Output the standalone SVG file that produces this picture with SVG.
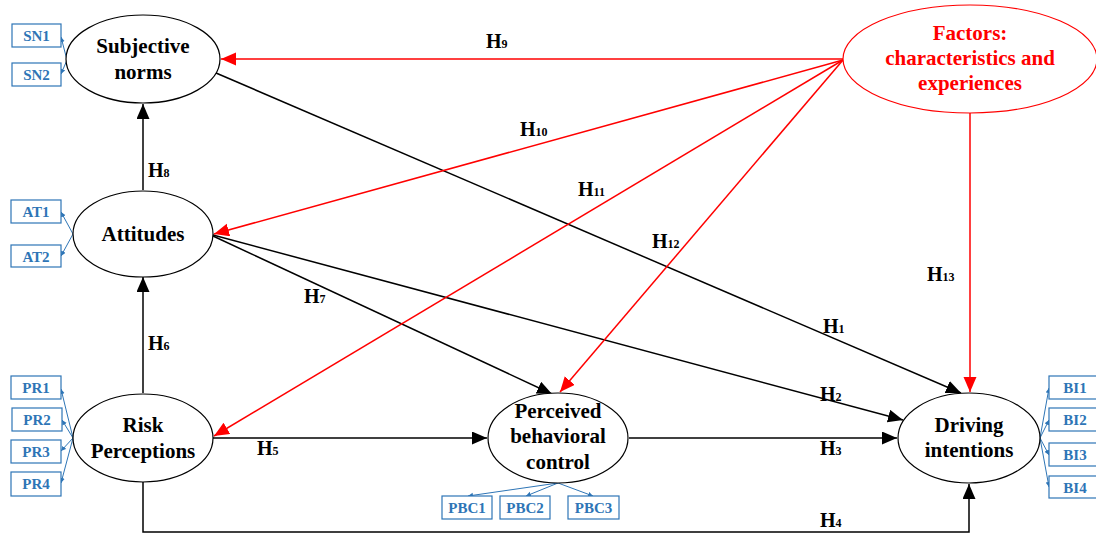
<svg xmlns="http://www.w3.org/2000/svg" width="1096" height="533" viewBox="0 0 1096 533">
<style>
.node{fill:#fff;stroke:#000;stroke-width:1.2}
.fnode{fill:#fff;stroke:#f00;stroke-width:1.2}
.nt{font-family:"Liberation Serif",serif;font-weight:bold;font-size:21px;fill:#000;text-anchor:middle}
.ft{font-family:"Liberation Serif",serif;font-weight:bold;font-size:21px;fill:#f00;text-anchor:middle}
.box{fill:#fff;stroke:#2E75B6;stroke-width:1.2}
.bt{font-family:"Liberation Serif",serif;font-weight:bold;font-size:15px;fill:#2E75B6;text-anchor:middle}
.blk{fill:none;stroke:#000;stroke-width:1.5}
.red{fill:none;stroke:#f00;stroke-width:1.5}
.blu{fill:none;stroke:#2E75B6;stroke-width:1}
.hl{font-family:"Liberation Serif",serif;font-weight:bold;font-size:20px;fill:#000}
.sub{font-size:12px}
</style>
<defs>
<marker id="ab" markerUnits="userSpaceOnUse" markerWidth="16" markerHeight="14" refX="15" refY="6.5" orient="auto"><path d="M0,0 L15,6.5 L0,13 z" fill="#000"/></marker>
<marker id="ar" markerUnits="userSpaceOnUse" markerWidth="16" markerHeight="14" refX="15" refY="6.5" orient="auto"><path d="M0,0 L15,6.5 L0,13 z" fill="#f00"/></marker>
<marker id="au" markerUnits="userSpaceOnUse" markerWidth="6" markerHeight="6" refX="5" refY="2.5" orient="auto"><path d="M0,0 L5,2.5 L0,5 z" fill="#2E75B6"/></marker>
</defs>

<g id="connectors">
<line class="blk" x1="143" y1="190" x2="143" y2="104" marker-end="url(#ab)"/>
<line class="blk" x1="143" y1="393" x2="143" y2="277" marker-end="url(#ab)"/>
<line class="blk" x1="213" y1="438" x2="487" y2="438" marker-end="url(#ab)"/>
<line class="blk" x1="629" y1="438" x2="897" y2="438" marker-end="url(#ab)"/>
<polyline class="blk" points="143,482 143,532 969,532 969,484" marker-end="url(#ab)"/>
<line class="blk" x1="216" y1="73" x2="961" y2="393" marker-end="url(#ab)"/>
<line class="blk" x1="213" y1="235" x2="903" y2="420" marker-end="url(#ab)"/>
<line class="blk" x1="213" y1="236" x2="552" y2="394" marker-end="url(#ab)"/>
<line class="red" x1="843" y1="59" x2="221" y2="59" marker-end="url(#ar)"/>
<line class="red" x1="843" y1="60" x2="214" y2="234" marker-end="url(#ar)"/>
<line class="red" x1="843" y1="60" x2="214" y2="436" marker-end="url(#ar)"/>
<line class="red" x1="843" y1="60" x2="560" y2="392" marker-end="url(#ar)"/>
<line class="red" x1="970" y1="113" x2="970" y2="392" marker-end="url(#ar)"/>
<line class="blu" x1="67" y1="60" x2="61" y2="37" marker-end="url(#au)"/>
<line class="blu" x1="67" y1="60" x2="61" y2="74" marker-end="url(#au)"/>
<line class="blu" x1="73" y1="234" x2="61" y2="212" marker-end="url(#au)"/>
<line class="blu" x1="73" y1="234" x2="61" y2="256" marker-end="url(#au)"/>
<line class="blu" x1="73" y1="438" x2="61" y2="389" marker-end="url(#au)"/>
<line class="blu" x1="73" y1="438" x2="62" y2="420" marker-end="url(#au)"/>
<line class="blu" x1="73" y1="438" x2="61" y2="451" marker-end="url(#au)"/>
<line class="blu" x1="73" y1="438" x2="61" y2="483" marker-end="url(#au)"/>
<line class="blu" x1="558" y1="483" x2="468" y2="496" marker-end="url(#au)"/>
<line class="blu" x1="558" y1="483" x2="526" y2="496" marker-end="url(#au)"/>
<line class="blu" x1="558" y1="483" x2="593" y2="496" marker-end="url(#au)"/>
<line class="blu" x1="1040" y1="438" x2="1049" y2="388" marker-end="url(#au)"/>
<line class="blu" x1="1040" y1="438" x2="1049" y2="420" marker-end="url(#au)"/>
<line class="blu" x1="1040" y1="438" x2="1049" y2="455" marker-end="url(#au)"/>
<line class="blu" x1="1040" y1="438" x2="1049" y2="487" marker-end="url(#au)"/>
</g>

<g id="labels">
<text class="hl" x="486" y="48">H<tspan class="sub">9</tspan></text>
<text class="hl" x="520" y="136">H<tspan class="sub">10</tspan></text>
<text class="hl" x="578" y="196">H<tspan class="sub">11</tspan></text>
<text class="hl" x="652" y="248">H<tspan class="sub">12</tspan></text>
<text class="hl" x="927" y="281">H<tspan class="sub">13</tspan></text>
<text class="hl" x="823" y="333">H<tspan class="sub">1</tspan></text>
<text class="hl" x="820" y="401">H<tspan class="sub">2</tspan></text>
<text class="hl" x="820" y="455">H<tspan class="sub">3</tspan></text>
<text class="hl" x="820" y="527">H<tspan class="sub">4</tspan></text>
<text class="hl" x="257" y="455">H<tspan class="sub">5</tspan></text>
<text class="hl" x="148" y="350">H<tspan class="sub">6</tspan></text>
<text class="hl" x="304" y="303">H<tspan class="sub">7</tspan></text>
<text class="hl" x="148" y="177">H<tspan class="sub">8</tspan></text>
</g>

<g id="subjective-norms">
<ellipse class="node" cx="143" cy="59" rx="77" ry="44"/>
<text class="nt" x="143" y="53">Subjective</text>
<text class="nt" x="143" y="79">norms</text>
</g>
<g id="attitudes">
<ellipse class="node" cx="143" cy="234" rx="70" ry="43"/>
<text class="nt" x="143" y="241">Attitudes</text>
</g>
<g id="risk-perceptions">
<ellipse class="node" cx="143" cy="438" rx="70" ry="44"/>
<text class="nt" x="143" y="432">Risk</text>
<text class="nt" x="143" y="458">Perceptions</text>
</g>
<g id="pbc">
<ellipse class="node" cx="558" cy="438" rx="70" ry="45"/>
<text class="nt" x="558" y="418">Perceived</text>
<text class="nt" x="558" y="443">behavioral</text>
<text class="nt" x="558" y="469">control</text>
</g>
<g id="driving-intentions">
<ellipse class="node" cx="969" cy="438" rx="71" ry="45"/>
<text class="nt" x="969" y="432">Driving</text>
<text class="nt" x="969" y="457">intentions</text>
</g>
<g id="factors">
<ellipse class="fnode" cx="970" cy="59" rx="127" ry="54"/>
<text class="ft" x="970" y="40">Factors:</text>
<text class="ft" x="970" y="65">characteristics and</text>
<text class="ft" x="970" y="90">experiences</text>
</g>

<g id="SN1"><rect class="box" x="12" y="24" width="49" height="23"/><text class="bt" x="36.5" y="41">SN1</text></g>
<g id="SN2"><rect class="box" x="12" y="63" width="49" height="23"/><text class="bt" x="36.5" y="80">SN2</text></g>
<g id="AT1"><rect class="box" x="11" y="200" width="50" height="23"/><text class="bt" x="36" y="217">AT1</text></g>
<g id="AT2"><rect class="box" x="11" y="245" width="50" height="22"/><text class="bt" x="36" y="262">AT2</text></g>
<g id="PR1"><rect class="box" x="11" y="376" width="50" height="23"/><text class="bt" x="36" y="393">PR1</text></g>
<g id="PR2"><rect class="box" x="12" y="408" width="50" height="23"/><text class="bt" x="37" y="425">PR2</text></g>
<g id="PR3"><rect class="box" x="11" y="440" width="50" height="23"/><text class="bt" x="36" y="457">PR3</text></g>
<g id="PR4"><rect class="box" x="11" y="472" width="50" height="24"/><text class="bt" x="36" y="489">PR4</text></g>
<g id="PBC1"><rect class="box" x="442" y="496" width="50" height="23"/><text class="bt" x="467" y="513">PBC1</text></g>
<g id="PBC2"><rect class="box" x="500" y="496" width="50" height="23"/><text class="bt" x="525" y="513">PBC2</text></g>
<g id="PBC3"><rect class="box" x="568" y="496" width="51" height="23"/><text class="bt" x="593.5" y="513">PBC3</text></g>
<g id="BI1"><rect class="box" x="1049" y="376" width="50" height="23"/><text class="bt" x="1075" y="393">BI1</text></g>
<g id="BI2"><rect class="box" x="1049" y="408" width="50" height="23"/><text class="bt" x="1075" y="425">BI2</text></g>
<g id="BI3"><rect class="box" x="1049" y="443" width="50" height="23"/><text class="bt" x="1075" y="460">BI3</text></g>
<g id="BI4"><rect class="box" x="1049" y="476" width="50" height="22"/><text class="bt" x="1075" y="493">BI4</text></g>
</svg>
